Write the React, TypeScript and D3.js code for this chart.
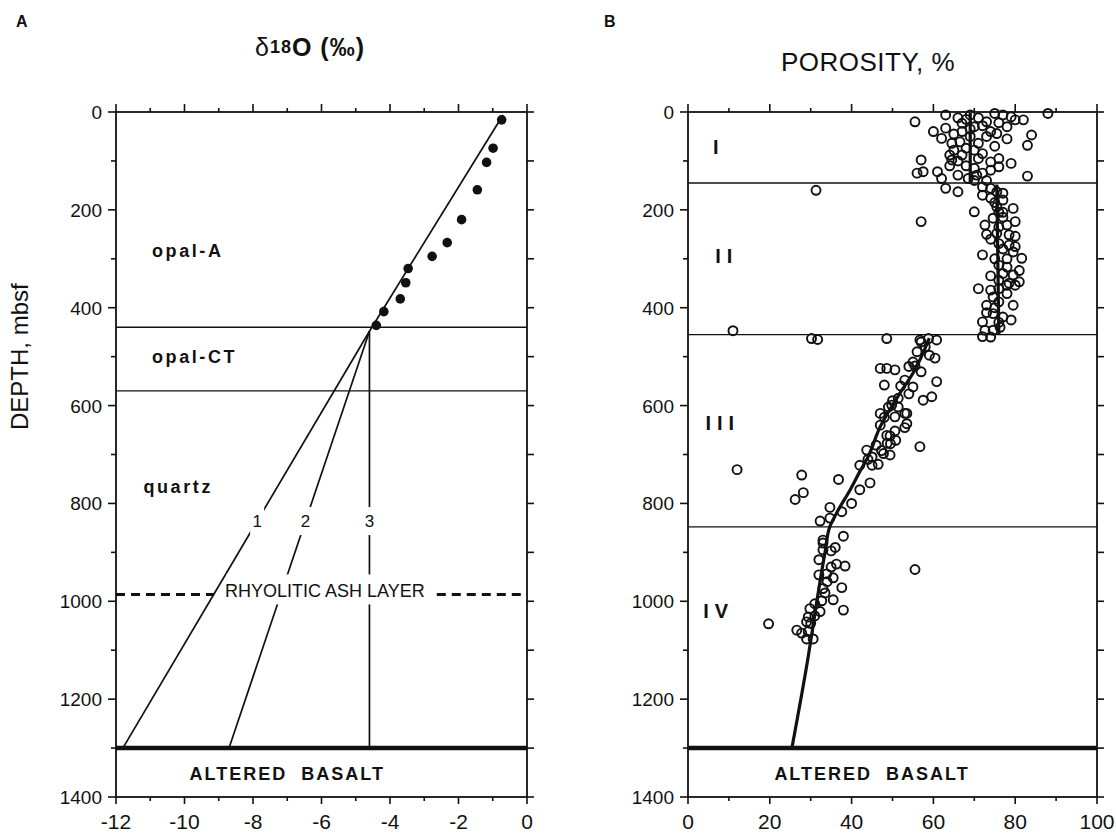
import React, { useEffect, useRef } from 'react';
import * as d3 from 'd3';

const W = 1116, H = 835;

// depth axis shared by both panels
const depthTicks = d3.range(0, 1401, 100);

// panel A: oxygen isotope data (delta 18O, permil vs depth mbsf)
const oxyDelta = [-0.74, -0.99, -1.18, -1.45, -1.91, -2.33, -2.77, -3.47, -3.54, -3.70, -4.18, -4.40];
const oxyDepth = [16, 74, 103, 159, 220, 267, 295, 320, 349, 382, 408, 436];
const oxyTicks = d3.range(-12, 0.01, 1);

// silica diagenesis zones
const zoneNames = ['opal-A', 'opal-CT', 'quartz'];
const zoneLabelDepth = [285, 500, 767];
const zoneLabelDelta = [-10.95, -10.95, -11.2];
const zoneBoundaries = [440, 570];

// extrapolation lines
const trendTop = [-0.7, 6];
const pivot = [-4.6, 448];
const modelNames = ['1', '2', '3'];
const modelBottomDelta = [-11.8, -8.7, -4.6];
const modelLabelDepth = 836;

const ashDepth = 986;
const ashLabelDelta = -5.9;
const basementDepth = 1300;

// panel B: porosity (%) vs depth, by lithologic unit
const unitNames = ['I', 'II', 'III', 'IV'];
const unitLabelDepth = [71, 295, 635, 1020];
const unitLabelPoro = [7.5, 9.5, 8.5, 7.5];
const unitBoundaries = [145, 455, 848];
const poroTicks = d3.range(0, 100.01, 10);

const unitI = [[63,6],[69,6],[75,3],[77,6],[79,10],[80,16],[82,16],[88,3],[55.5,20],[60,40],[63,33],[67,23],[70,30],[72,28],[74,40],[75.5,44],[78,30],[84,47],[83,68],[62,54],[64.5,64],[66.5,61],[69,50],[71,64],[73,50],[68,74],[70,78],[65,78],[64,88],[57,98],[64.5,98],[71,95],[74,102],[76,95],[79,105],[74,119],[76,112],[56,125],[57.5,122],[61,122],[62,136],[66,129],[68.5,136],[70.6,129],[83,131],[63,156],[66,163],[31.3,160],[67,40],[65,45],[68,15],[71,12],[73,20],[76,22],[66,100],[68,110],[72,85],[70,115],[67,88],[75,70],[78,55],[70,140],[73,140],[72,125],[66,12],[69,35],[64,110]];
const unitII = [[72,153],[74,156],[75.5,163],[77,166],[72,170],[74,176],[77,180],[70,204],[75.5,194],[79.5,197],[57,224],[72.6,231],[74.6,217],[77,215],[78,231],[80,224],[75.5,248],[78.5,251],[80,254],[76,269],[78.5,272],[79.5,286],[81.6,299],[72,292],[76,313],[78,317],[81,324],[79.5,333],[76,344],[78.5,350],[81,347],[71,361],[76,361],[78,371],[74.6,378],[74,364],[78,354],[80,354],[76,388],[79.5,395],[72,429],[74.6,412],[77,419],[79,425],[72.6,446],[74.6,446],[76.3,440],[72,459],[74,460],[73,410],[11,447],[75,185],[77,205],[76,235],[74,260],[77,280],[75,300],[77,330],[75,400],[73,395],[76,430],[78,300],[74,335],[76,205],[80,275],[73,250]];
const unitIII = [[48.6,463],[56.7,466],[58.8,463],[60.8,466],[30.2,463],[31.7,465],[55,511],[59,497],[60.4,503],[57,531],[53,548],[55,562],[60.8,551],[57.5,589],[59.6,582],[54,576],[51.4,585],[48.6,524],[50.6,527],[48,558],[49,603],[51.4,603],[53.5,616],[50.6,623],[48,624],[53.5,637],[53,645],[50.6,652],[48.6,661],[49.5,678],[56.7,684],[47.3,692],[43.7,691],[46,681],[48.7,677],[50.8,671],[45,705],[47.8,698],[49.4,701],[42,722],[45,722],[46.5,720],[27.8,742],[36.8,751],[44.5,758],[42,772],[28.2,778],[26.2,792],[40,800],[34.7,808],[37.6,817],[32.3,836],[34.7,830],[12,731],[47,524],[55.5,519],[49.8,599],[47,616],[53,616],[49.4,662],[57,470],[58,480],[56,490],[54,520],[52,560],[50,590],[47,640],[44,710]];
const unitIV = [[38,867],[33,875],[33,881],[36,890],[33,895],[35,897],[32,915],[36.3,924],[38.4,928],[35,930],[55.5,935],[32,946],[33.9,944],[35.5,952],[37.6,972],[33.5,983],[33,974],[35.5,997],[32.7,999],[29.8,1015],[38,1018],[32.3,1021],[29.4,1032],[29,1042],[30,1045],[26.6,1059],[27.8,1065],[29.4,1062],[29,1077],[30.6,1077],[19.7,1046],[31,1005],[34,960],[31,1030]];

// smoothed porosity trend per unit
const trendUnitI = [[69,2],[69,145]];
const trendUnitII = [[75.5,148],[76,455]];
const trendLower = [[59,462],[55,534],[51.8,575],[47,643],[44,705],[42,735],[39.6,773],[36.7,814],[34.7,847],[33.5,900],[31.5,1000],[29.4,1113],[25.4,1300]];

const FONT = '"Liberation Sans", Arial, Helvetica, sans-serif';
const INK = '#111';

export default function App() {
  const ref = useRef<SVGSVGElement>(null);

  useEffect(() => {
    const svg = d3.select(ref.current);
    svg.selectAll('*').remove();

    const y = d3.scaleLinear().domain([0, 1400]).range([112, 797]);
    const xA = d3.scaleLinear().domain([-12, 0]).range([116, 527]);
    const xB = d3.scaleLinear().domain([0, 100]).range([688, 1097]);

    svg.append('rect').attr('width', W).attr('height', H).attr('fill', '#fff');

    // draws the box, ticks on all four sides and the labels
    function frame(g: any, x: any, ticks: number[], major: (d: number) => boolean) {
      const [x0, x1] = x.range();
      const [y0, y1] = y.range();
      g.append('rect').attr('x', x0).attr('y', y0).attr('width', x1 - x0).attr('height', y1 - y0)
        .attr('fill', 'none').attr('stroke', INK).attr('stroke-width', 1.8);
      g.selectAll('.tt').data(ticks).join('line').attr('class', 'tt')
        .attr('x1', (d: number) => x(d)).attr('x2', (d: number) => x(d))
        .attr('y1', y0).attr('y2', (d: number) => y0 - (major(d) ? 8 : 4))
        .attr('stroke', INK).attr('stroke-width', 1.6);
      g.selectAll('.bt').data(ticks).join('line').attr('class', 'bt')
        .attr('x1', (d: number) => x(d)).attr('x2', (d: number) => x(d))
        .attr('y1', y1).attr('y2', (d: number) => y1 + (major(d) ? 7 : 4))
        .attr('stroke', INK).attr('stroke-width', 1.6);
      g.selectAll('.lt').data(depthTicks).join('line').attr('class', 'lt')
        .attr('x1', x0).attr('x2', (d: number) => x0 - (d % 200 === 0 ? 8 : 5))
        .attr('y1', (d: number) => y(d)).attr('y2', (d: number) => y(d))
        .attr('stroke', INK).attr('stroke-width', 1.6);
      g.selectAll('.rt').data(depthTicks).join('line').attr('class', 'rt')
        .attr('x1', x1).attr('x2', x1 + 7)
        .attr('y1', (d: number) => y(d)).attr('y2', (d: number) => y(d))
        .attr('stroke', INK).attr('stroke-width', 1.6);
      g.selectAll('.ll').data(depthTicks.filter(d => d % 200 === 0)).join('text').attr('class', 'll')
        .attr('x', x0 - 14).attr('y', (d: number) => y(d) + 7)
        .attr('text-anchor', 'end').attr('font-size', 19).attr('font-family', FONT).attr('fill', INK)
        .text((d: number) => d);
      g.selectAll('.bl').data(ticks.filter(major)).join('text').attr('class', 'bl')
        .attr('x', (d: number) => x(d)).attr('y', y1 + 32)
        .attr('text-anchor', 'middle').attr('font-size', 21).attr('font-family', FONT).attr('fill', INK)
        .text((d: number) => d);
    }

    const text = (g: any, s: string, x: number, yy: number, size: number, opts: any = {}) =>
      g.append('text').attr('x', x).attr('y', yy).attr('font-size', size).attr('font-family', FONT)
        .attr('fill', INK).attr('text-anchor', opts.anchor || 'start')
        .attr('font-weight', opts.weight || 'normal')
        .attr('letter-spacing', opts.spacing || 0).style('white-space', 'pre').text(s);

    // ---------- panel A ----------
    const gA = svg.append('g');
    text(gA, 'A', 16, 27, 16, { weight: 'bold' });
    const t = gA.append('text').attr('x', 310).attr('y', 56).attr('text-anchor', 'middle')
      .attr('font-family', FONT).attr('font-size', 25).attr('font-weight', 'bold').attr('fill', INK).attr('letter-spacing', 1);
    t.append('tspan').attr('font-weight', 'normal').text('δ');
    t.append('tspan').attr('font-size', 18).attr('dy', -3).text('18');
    t.append('tspan').attr('dy', 3).text('O (‰)');

    gA.selectAll('.zb').data(zoneBoundaries).join('line').attr('class', 'zb')
      .attr('x1', xA(-12)).attr('x2', xA(0)).attr('y1', d => y(d)).attr('y2', d => y(d))
      .attr('stroke', INK).attr('stroke-width', 1.4);
    zoneNames.forEach((n, i) => text(gA, n, xA(zoneLabelDelta[i]), y(zoneLabelDepth[i]) + 6, 18, { weight: 'bold', spacing: 2.6 }));

    // upper fitted line and the three extrapolations
    gA.append('line').attr('x1', xA(trendTop[0])).attr('y1', y(trendTop[1]))
      .attr('x2', xA(pivot[0])).attr('y2', y(pivot[1])).attr('stroke', INK).attr('stroke-width', 1.7);
    gA.selectAll('.ml').data(modelBottomDelta).join('line').attr('class', 'ml')
      .attr('x1', xA(pivot[0])).attr('y1', y(pivot[1]))
      .attr('x2', d => xA(d)).attr('y2', y(basementDepth)).attr('stroke', INK).attr('stroke-width', 1.7);

    // ash layer: dashed line broken by its label
    const ashY = y(ashDepth);
    const ashText = text(gA, 'RHYOLITIC ASH LAYER', xA(ashLabelDelta), ashY + 3, 18, { anchor: 'middle' });
    const bb = ashText.node().getBBox();
    gA.append('rect').attr('x', bb.x + 1).attr('y', ashY - 20).attr('width', bb.width + 2).attr('height', 30).attr('fill', '#fff');
    ashText.raise();
    gA.append('line').attr('x1', xA(-12)).attr('x2', bb.x - 11).attr('y1', ashY).attr('y2', ashY)
      .attr('stroke', INK).attr('stroke-width', 3).attr('stroke-dasharray', '9,6');
    gA.append('line').attr('x1', bb.x + bb.width + 12).attr('x2', xA(0)).attr('y1', ashY).attr('y2', ashY)
      .attr('stroke', INK).attr('stroke-width', 3).attr('stroke-dasharray', '9,6');

    // line labels 1, 2, 3 sitting in gaps
    const f = (modelLabelDepth - pivot[1]) / (basementDepth - pivot[1]);
    modelBottomDelta.forEach((d, i) => {
      const lx = xA(pivot[0] + f * (d - pivot[0]));
      const ly = y(modelLabelDepth);
      gA.append('rect').attr('x', lx - 7).attr('y', ly - 14).attr('width', 14).attr('height', 28).attr('fill', '#fff');
      text(gA, modelNames[i], lx, ly + 6, 17, { anchor: 'middle' });
    });

    gA.selectAll('.dot').data(oxyDelta).join('circle').attr('class', 'dot')
      .attr('cx', d => xA(d)).attr('cy', (d, i) => y(oxyDepth[i])).attr('r', 4.8).attr('fill', INK);

    gA.append('line').attr('x1', xA(-12)).attr('x2', xA(0)).attr('y1', y(basementDepth)).attr('y2', y(basementDepth))
      .attr('stroke', INK).attr('stroke-width', 4.5);
    text(gA, 'ALTERED  BASALT', xA(-7), y(1350) + 7, 18, { anchor: 'middle', weight: 'bold', spacing: 2 });

    frame(gA, xA, oxyTicks, d => Math.round(d) % 2 === 0);

    svg.append('text').attr('transform', `translate(28,${y(500)}) rotate(-90)`).attr('text-anchor', 'middle')
      .attr('font-family', FONT).attr('font-size', 24).attr('fill', INK).text('DEPTH, mbsf');

    // ---------- panel B ----------
    const gB = svg.append('g');
    text(gB, 'B', 604, 27, 16, { weight: 'bold' });
    text(gB, 'POROSITY, %', 868, 71, 26, { anchor: 'middle', spacing: 0.5 });

    gB.selectAll('.ub').data(unitBoundaries).join('line').attr('class', 'ub')
      .attr('x1', xB(0)).attr('x2', xB(100)).attr('y1', d => y(d)).attr('y2', d => y(d))
      .attr('stroke', INK).attr('stroke-width', 1.4);
    unitNames.forEach((n, i) => text(gB, n, xB(unitLabelPoro[i]), y(unitLabelDepth[i]) + 7, 20,
      { anchor: 'middle', spacing: 6, weight: 'bold' }));

    const pts = [...unitI, ...unitII, ...unitIII, ...unitIV];
    gB.selectAll('.pc').data(pts).join('circle').attr('class', 'pc')
      .attr('cx', d => xB(d[0])).attr('cy', d => y(d[1])).attr('r', 4.5)
      .attr('fill', 'none').attr('stroke', INK).attr('stroke-width', 1.9);

    const line = d3.line<number[]>().x(d => xB(d[0])).y(d => y(d[1])).curve(d3.curveMonotoneY);
    [trendUnitI, trendUnitII, trendLower].forEach(seg =>
      gB.append('path').attr('d', line(seg)).attr('fill', 'none').attr('stroke', INK).attr('stroke-width', 3.2));

    gB.append('line').attr('x1', xB(0)).attr('x2', xB(100)).attr('y1', y(basementDepth)).attr('y2', y(basementDepth))
      .attr('stroke', INK).attr('stroke-width', 4.5);
    text(gB, 'ALTERED  BASALT', xB(45), y(1350) + 7, 18, { anchor: 'middle', weight: 'bold', spacing: 2 });

    frame(gB, xB, poroTicks, d => Math.round(d) % 20 === 0);
  }, []);

  return <svg ref={ref} width={W} height={H} style={{ position: 'absolute', left: 0, top: 0 }} />;
}
